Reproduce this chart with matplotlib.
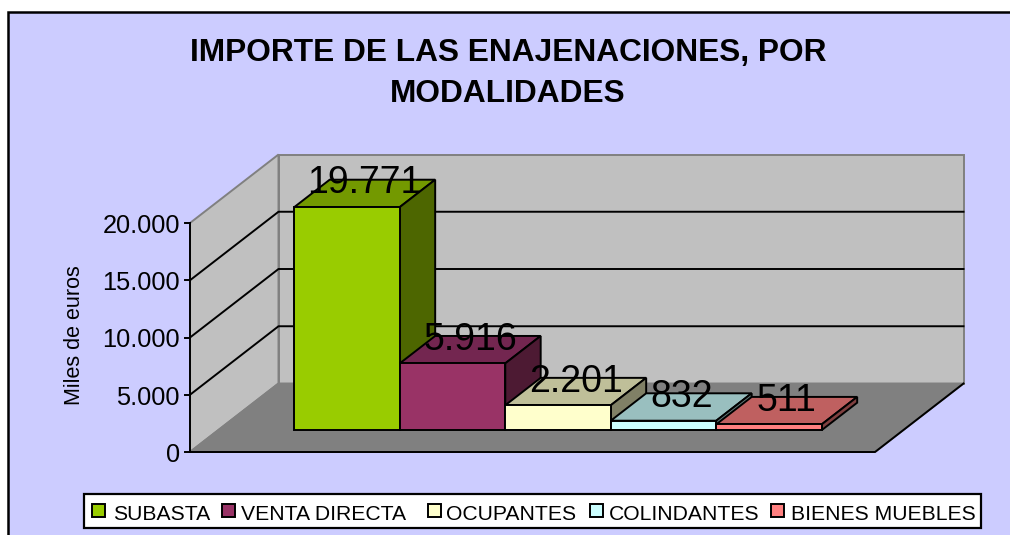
import matplotlib
matplotlib.use("Agg")
import matplotlib.pyplot as plt
from matplotlib.patches import Polygon, Rectangle

plt.rcParams["font.family"] = ["Liberation Sans", "DejaVu Sans"]

CATEGORIES = ["SUBASTA", "VENTA DIRECTA", "OCUPANTES", "COLINDANTES", "BIENES MUEBLES"]
VALUES = [19771, 5916, 2201, 832, 511]
VALUE_LABELS = ["19.771", "5.916", "2.201", "832", "511"]
COLORS = ["#99CC00", "#993366", "#FFFFCC", "#CCFFFF", "#FF8080"]
TOP_COLORS = ["#739900", "#732650", "#BFBF99", "#99BFBF", "#BF6060"]
SIDE_COLORS = ["#4D6600", "#4D1A33", "#808066", "#668080", "#804040"]
TICKS = [0, 5000, 10000, 15000, 20000]
TICK_LABELS = ["0", "5.000", "10.000", "15.000", "20.000"]

W, H = 1010, 535
BAR_PX = 105.5
VALUE_PER_PX = 20000 / 229
DEPTH_X = 88.5 / BAR_PX
DEPTH_Y = 68.5 * VALUE_PER_PX
FLOOR_W = 685 / BAR_PX
BAR_START = 0.72
BAR_D0, BAR_D1 = 0.32, 0.72
BAR_SCALE = 0.985  # bars sit further back, so they come out a little shorter
BLACK_LW = 1.4

fig = plt.figure(figsize=(W / 100, H / 100), dpi=100, facecolor="white")

# pixel axes for the frame, title and legend
px = fig.add_axes([0, 0, 1, 1], zorder=0)
px.set_xlim(0, W)
px.set_ylim(H, 0)
px.axis("off")

# chart axes: x in bar widths, y in euros, origin at the front wall corner
ax = fig.add_axes([0, 0, 1, 1], zorder=1)
ax.set_xlim(-190 / BAR_PX, (W - 190) / BAR_PX)
ax.set_ylim(-(H - 452) * VALUE_PER_PX, 452 * VALUE_PER_PX)
ax.axis("off")


def proj(x, value, depth):
    return (x + depth * DEPTH_X, value + depth * DEPTH_Y)


def face(points, color, edge, lw=BLACK_LW, zorder=2):
    ax.add_patch(Polygon([proj(*p) for p in points], closed=True, facecolor=color,
                         edgecolor=edge, linewidth=lw, joinstyle="miter", zorder=zorder))


# the frame runs off the right and bottom of the picture
px.add_patch(Rectangle((8, 12), 1040, 560, facecolor="#CCCCFF", edgecolor="black", linewidth=1.8))
px.text(508, 53.5, "IMPORTE DE LAS ENAJENACIONES, POR", fontsize=22.8, fontweight="bold",
        ha="center", va="center")
px.text(508, 93.5, "MODALIDADES", fontsize=22.8, fontweight="bold", ha="center", va="center")
px.text(75, 335, "Miles de euros", fontsize=15.5, rotation=90, ha="center", va="center")

# walls and floor
top = TICKS[-1]
face([(0, 0, 0), (0, top, 0), (0, top, 1), (0, 0, 1)], "#C0C0C0", "#808080")
face([(0, 0, 1), (0, top, 1), (FLOOR_W, top, 1), (FLOOR_W, 0, 1)], "#C0C0C0", "#808080")
face([(0, 0, 0), (0, 0, 1), (FLOOR_W, 0, 1), (FLOOR_W, 0, 0)], "#808080", "#808080")

for tick, label in zip(TICKS, TICK_LABELS):
    if tick not in (0, top):
        xs, ys = zip(proj(0, tick, 0), proj(0, tick, 1), proj(FLOOR_W, tick, 1))
        ax.plot(xs, ys, color="black", lw=BLACK_LW, zorder=3)
    ax.plot([-5 / BAR_PX, 0], [tick, tick], color="black", lw=BLACK_LW, zorder=3)
    ax.annotate(label, (-10 / BAR_PX, tick), xytext=(0, -2), textcoords="offset points",
                fontsize=18.3, ha="right", va="center", zorder=3)

ax.plot([0, 0], [0, top], color="black", lw=BLACK_LW, zorder=3)
xs, ys = zip(proj(0, 0, 0), proj(FLOOR_W, 0, 0), proj(FLOOR_W, 0, 1))
ax.plot(xs, ys, color="black", lw=BLACK_LW, zorder=3)

# bars, left to right so that each covers the side of the one before
for i, value in enumerate(VALUES):
    x0 = BAR_START + i
    x1 = x0 + 1
    h = value * BAR_SCALE
    z = 4 + i
    face([(x0, h, BAR_D0), (x0, h, BAR_D1), (x1, h, BAR_D1), (x1, h, BAR_D0)],
         TOP_COLORS[i], "black", zorder=z)
    face([(x1, 0, BAR_D0), (x1, h, BAR_D0), (x1, h, BAR_D1), (x1, 0, BAR_D1)],
         SIDE_COLORS[i], "black", zorder=z)
    face([(x0, 0, BAR_D0), (x0, h, BAR_D0), (x1, h, BAR_D0), (x1, 0, BAR_D0)],
         COLORS[i], "black", zorder=z)

for i, value in enumerate(VALUES):
    lx, ly = proj(BAR_START + i + 0.5, value * BAR_SCALE, (BAR_D0 + BAR_D1) / 2)
    ax.text(lx, ly, VALUE_LABELS[i], fontsize=27, ha="center", va="baseline", zorder=20)

# legend built by hand, the entries are spaced unevenly
px.add_patch(Rectangle((84, 493.5), 897, 34, facecolor="white", edgecolor="black", linewidth=1.6))
swatch_x = [92, 222, 428, 590, 771]
text_x = [113, 241, 446, 609, 791]
for name, color, sx, tx in zip(CATEGORIES, COLORS, swatch_x, text_x):
    px.add_patch(Rectangle((sx, 504), 13, 13, facecolor=color, edgecolor="black", linewidth=1.4))
    px.text(tx, 520, name, fontsize=15.2, ha="left", va="baseline")

fig.savefig("out.png", dpi=100)
